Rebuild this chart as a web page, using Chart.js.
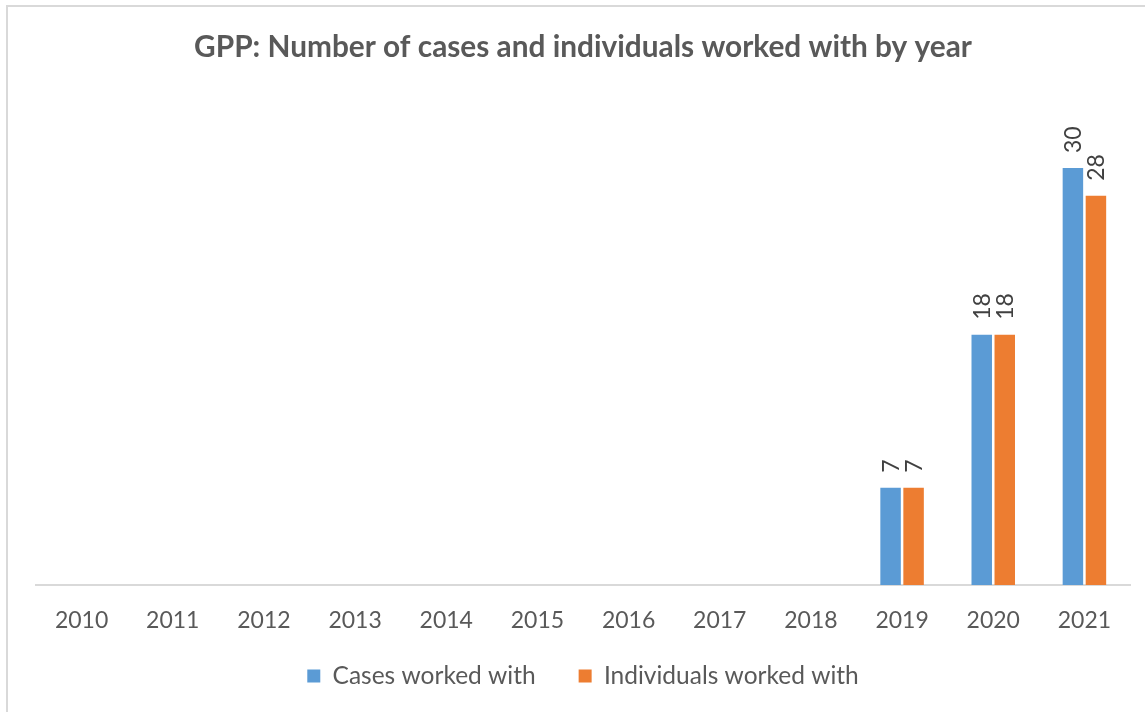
<!DOCTYPE html>
<html>
<head>
<meta charset="utf-8">
<script src="https://cdn.jsdelivr.net/npm/chart.js@4/dist/chart.umd.min.js"></script>
<style>
  html, body { margin: 0; padding: 0; background: #ffffff; }
  #wrap { width: 1145px; height: 712px; position: relative; }
</style>
</head>
<body>
<div id="wrap"><canvas id="c" width="1145" height="712"></canvas></div>
<script>
const years = ['2010','2011','2012','2013','2014','2015','2016','2017','2018','2019','2020','2021'];
const casesWorkedWith = [null, null, null, null, null, null, null, null, null, 7, 18, 30];
const individualsWorkedWith = [null, null, null, null, null, null, null, null, null, 7, 18, 28];
const seriesNames = ['Cases worked with', 'Individuals worked with'];
const chartTitle = 'GPP: Number of cases and individuals worked with by year';

const FONT = 'Lato, "Open Sans", sans-serif';

const frame = {
  id: 'frame',
  beforeDraw(chart) {
    const ctx = chart.ctx;
    ctx.save();
    ctx.fillStyle = '#ffffff';
    ctx.fillRect(0, 0, chart.width, chart.height);
    ctx.fillStyle = '#d9d9d9';
    ctx.fillRect(6, 5, chart.width - 6, 2);
    ctx.fillRect(6, 5, 2, chart.height - 5);
    ctx.restore();
  },
  afterLayout(chart) {
    // let the category labels draw below the (shortened) axis box without clipping
    chart.scales.x.bottom = chart.height;
  }
};

const valueLabels = {
  id: 'valueLabels',
  afterDatasetsDraw(chart) {
    const ctx = chart.ctx;
    ctx.save();
    ctx.fillStyle = '#404040';
    ctx.font = '23px ' + FONT;
    ctx.textAlign = 'left';
    ctx.textBaseline = 'middle';
    chart.data.datasets.forEach((ds, di) => {
      const meta = chart.getDatasetMeta(di);
      meta.data.forEach((bar, i) => {
        const v = ds.data[i];
        if (v === null || v === undefined) return;
        ctx.save();
        ctx.translate(bar.x, bar.y - 15);
        ctx.rotate(-Math.PI / 2);
        ctx.fillText(String(v), 0, 1);
        ctx.restore();
      });
    });
    ctx.restore();
  }
};

new Chart(document.getElementById('c'), {
  type: 'bar',
  data: {
    labels: years,
    datasets: [
      { label: seriesNames[0], data: casesWorkedWith, backgroundColor: '#5B9BD5', borderWidth: 0 },
      { label: seriesNames[1], data: individualsWorkedWith, backgroundColor: '#ED7D31', borderWidth: 0 }
    ]
  },
  options: {
    responsive: false,
    animation: false,
    devicePixelRatio: 1,
    layout: { padding: { left: 36, right: 15, top: 0, bottom: 13.75 } },
    datasets: { bar: { categoryPercentage: 0.505, barPercentage: 0.89 } },
    scales: {
      x: {
        grid: { display: false, drawTicks: false },
        border: { display: true, color: '#d9d9d9', width: 2 },
        ticks: { color: '#595959', font: { family: FONT, size: 23 }, padding: 22, maxRotation: 0 },
        afterFit(scale) { scale.height = 35.75; }
      },
      y: { display: false, min: 0, max: 35 }
    },
    plugins: {
      title: {
        display: true,
        text: chartTitle,
        color: '#595959',
        font: { family: FONT, size: 29.8, weight: 'bold', lineHeight: 1.2 },
        padding: { top: 29.1, bottom: 33.6 }
      },
      legend: {
        position: 'bottom',
        labels: {
          color: '#595959',
          font: { family: FONT, size: 24.5 },
          boxWidth: 13,
          boxHeight: 13,
          padding: 43
        }
      },
      tooltip: { enabled: false }
    }
  },
  plugins: [frame, valueLabels]
});
</script>
</body>
</html>
